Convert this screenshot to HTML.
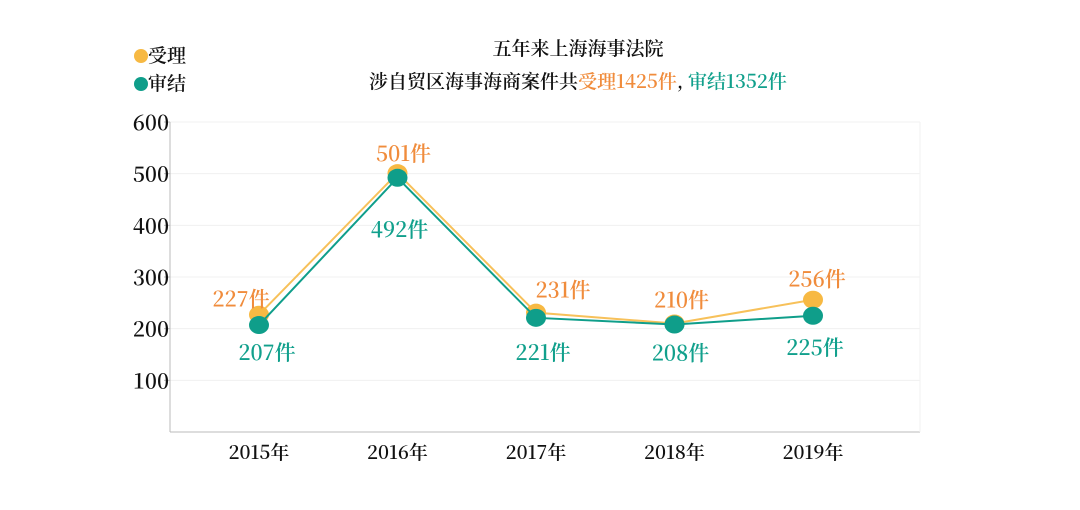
<!DOCTYPE html>
<html><head><meta charset="utf-8"><style>
body{margin:0;background:#fff;width:1080px;height:510px;overflow:hidden}
svg{display:block}
text{font-family:"Noto Serif CJK SC","Liberation Serif",serif;font-weight:600}
</style></head><body>
<svg id="chart" width="1080" height="510" viewBox="0 0 1080 510">
<g id="static">
<text x="578" y="55" text-anchor="middle" font-size="19" fill="#111">五年来上海海事法院</text>
<text x="578" y="88" text-anchor="middle" font-size="19" fill="#111">涉自贸区海事海商案件共<tspan fill="#f08c3c">受理1425件</tspan>, <tspan fill="#11a08c">审结1352件</tspan></text>
<g><circle cx="141" cy="56" r="7" fill="#f7b943"/><text x="148" y="62" font-size="19" fill="#111">受理</text></g>
<g><circle cx="141" cy="84" r="7" fill="#0f9e8a"/><text x="148" y="90" font-size="19" fill="#111">审结</text></g>
</g>
<g id="axes"></g>
<g id="marks"></g>
</svg>
<script>
const years=['2015年','2016年','2017年','2018年','2019年'];
const accepted=[227,501,231,210,256];
const concluded=[207,492,221,208,225];
const yTicks=[100,200,300,400,500,600];
const NS='http://www.w3.org/2000/svg';
const x0=170,x1=920,yTop=122,yBot=432;
function xs(i){return 259+i*138.5;}
function ys(v){return yBot-(v/600)*(yBot-yTop);}
function mk(t,a,p){const e=document.createElementNS(NS,t);for(const k in a)e.setAttribute(k,a[k]);p.appendChild(e);return e;}
const ax=document.getElementById('axes'),mg=document.getElementById('marks');
yTicks.forEach(v=>{
  const g=mk('line',{x1:x0,x2:x1,y1:ys(v),y2:ys(v),stroke:'#f0f0f0','stroke-width':1},ax);
  
  
  mk('line',{x1:x0-6,x2:x0,y1:ys(v),y2:ys(v),stroke:'#bbb'},ax);
  const t=mk('text',{x:x0-1,y:ys(v)+8,'text-anchor':'end','font-size':21,fill:'#111'},ax);
  t.textContent=v;
  
  
});
const ya=mk('line',{x1:x0,x2:x0,y1:yTop,y2:yBot,stroke:'#bbb'},ax);


const xa=mk('line',{x1:x0,x2:x1,y1:yBot,y2:yBot,stroke:'#bbb'},ax);


mk('line',{x1:x1,x2:x1,y1:yTop,y2:yBot,stroke:'#f2f2f2'},ax);
years.forEach((y,i)=>{
  const t=mk('text',{x:xs(i),y:459,'text-anchor':'middle','font-size':19,fill:'#111'},ax);
  t.textContent=y;
  
  
});
const accDx=[-18,6,27,7,4], accDy=[-8,-12,-15,-16,-13];
const conDx=[8,2,7,6,2], conDy=[35,59,42,36,39];
function series(data,color,dot,labColor,name,dx,dy){
  const pl=mk('polyline',{points:data.map((v,i)=>xs(i)+','+ys(v)).join(' '),fill:'none',stroke:color,'stroke-width':2},mg);
  
  
  data.forEach((v,i)=>{
    const c=mk('ellipse',{cx:xs(i),cy:ys(v),rx:10,ry:9,fill:dot},mg);
    
    
  });
  data.forEach((v,i)=>{
    const t=mk('text',{x:xs(i)+dx[i],y:ys(v)+dy[i],'text-anchor':'middle','font-size':21,fill:labColor},mg);
    t.textContent=v+'件';
    
    
  });
}
series(accepted,'#f7c15a','#f7b943','#f08c3c','accepted',accDx,accDy);
series(concluded,'#0f9e8a','#0f9e8a','#11a08c','concluded',conDx,conDy);
</script>
</body></html>
